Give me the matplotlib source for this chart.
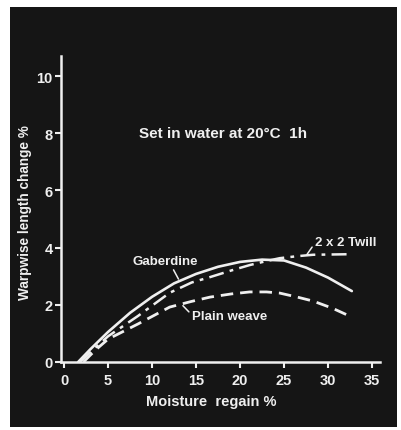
"""Warpwise length change of wool fabrics set in water, against moisture regain."""

import matplotlib

matplotlib.use("Agg")
import matplotlib.pyplot as plt
from matplotlib.patches import Rectangle

plt.rcParams["font.family"] = ["Liberation Sans", "DejaVu Sans"]
plt.rcParams["font.weight"] = "bold"
plt.rcParams["axes.labelweight"] = "bold"

INK = "#efefef"
PAPER = "#151515"

# Moisture regain (%) and warpwise length change (%) for each fabric
GAB_X = [1.6, 3.0, 5.0, 7.5, 10.0, 12.5, 15.0, 17.5, 20.0, 22.5, 25.0, 27.5, 30.0, 32.7]
GAB_Y = [0.0, 0.45, 1.05, 1.72, 2.28, 2.75, 3.08, 3.33, 3.50, 3.58, 3.55, 3.30, 2.95, 2.48]

TWILL_X = [1.8, 3.0, 5.0, 8.4, 12.0, 14.5, 16.6, 19.0, 21.1, 23.0, 24.5, 26.5, 28.3, 30.5, 32.7]
TWILL_Y = [0.0, 0.35, 0.90, 1.61, 2.42, 2.78, 2.97, 3.20, 3.39, 3.53, 3.63, 3.70, 3.75, 3.76, 3.77]

PLAIN_X = [2.2, 3.5, 5.0, 8.4, 12.0, 14.5, 16.6, 19.0, 21.1, 23.0, 24.5, 26.5, 28.3, 30.5, 32.7]
PLAIN_Y = [0.0, 0.40, 0.80, 1.33, 1.92, 2.12, 2.27, 2.38, 2.45, 2.45, 2.41, 2.27, 2.13, 1.88, 1.57]

X_TICKS = [0, 5, 10, 15, 20, 25, 30, 35]
Y_TICKS = [0, 2, 4, 6, 8, 10]

W_PX, H_PX = 401, 431

fig = plt.figure(figsize=(W_PX / 100, H_PX / 100), dpi=100, facecolor="white")

# dark plate of the printed figure
fig.add_artist(Rectangle((10 / W_PX, 1 - 428 / H_PX), 387 / W_PX, 420 / H_PX,
                         transform=fig.transFigure, facecolor=PAPER,
                         edgecolor="none", zorder=0))

ax = fig.add_axes([61 / W_PX, 1 - 363 / H_PX, 319 / W_PX, 306 / H_PX])
ax.set_facecolor("none")
ax.set_xlim(-0.35, 35.9)
ax.set_ylim(0, 10.7)

for side in ("top", "right"):
    ax.spines[side].set_visible(False)
for side in ("left", "bottom"):
    ax.spines[side].set_color(INK)
    ax.spines[side].set_linewidth(1.8)

ax.set_xticks(X_TICKS)
ax.set_yticks(Y_TICKS)
ax.tick_params(colors=INK, width=1.5, length=4, labelsize=10.5, pad=2)
ax.tick_params(axis="x", pad=4)

ax.set_xlabel("Moisture  regain %", color=INK, fontsize=10.5)
ax.xaxis.set_label_coords(0.47, -0.105)
ax.set_ylabel("Warpwise length change %", color=INK, fontsize=9.8)
ax.yaxis.set_label_coords(-0.09, 0.49)

ax.plot(GAB_X, GAB_Y, color=INK, lw=1.9, solid_capstyle="round")
ax.plot(TWILL_X, TWILL_Y, color=INK, lw=1.8, dashes=(6, 2.5, 1.5, 2.5))
ax.plot(PLAIN_X, PLAIN_Y, color=INK, lw=2.0, dashes=(4.5, 2.5))

ax.text(18.1, 8.0, "Set in water at 20°C  1h", color=INK, fontsize=11,
        ha="center", va="center")

ax.annotate("Gaberdine", xy=(13.0, 2.9), xytext=(7.8, 3.53), color=INK,
            fontsize=9.5, va="center",
            arrowprops=dict(arrowstyle="-", color=INK, lw=1.1,
                            shrinkA=0, shrinkB=0,
                            relpos=(0.6, 0.0)))
ax.annotate("Plain weave", xy=(13.5, 1.97), xytext=(14.5, 1.61), color=INK,
            fontsize=9.5, va="center",
            arrowprops=dict(arrowstyle="-", color=INK, lw=1.1,
                            shrinkA=0, shrinkB=0, relpos=(0.0, 0.6)))
ax.annotate("2 x 2 Twill", xy=(27.6, 3.76), xytext=(28.5, 4.2), color=INK,
            fontsize=9.5, va="center",
            arrowprops=dict(arrowstyle="-", color=INK, lw=1.1,
                            shrinkA=0, shrinkB=0, relpos=(0.0, 0.4)))

fig.savefig("out.png", dpi=100, facecolor="white")
plt.close(fig)
